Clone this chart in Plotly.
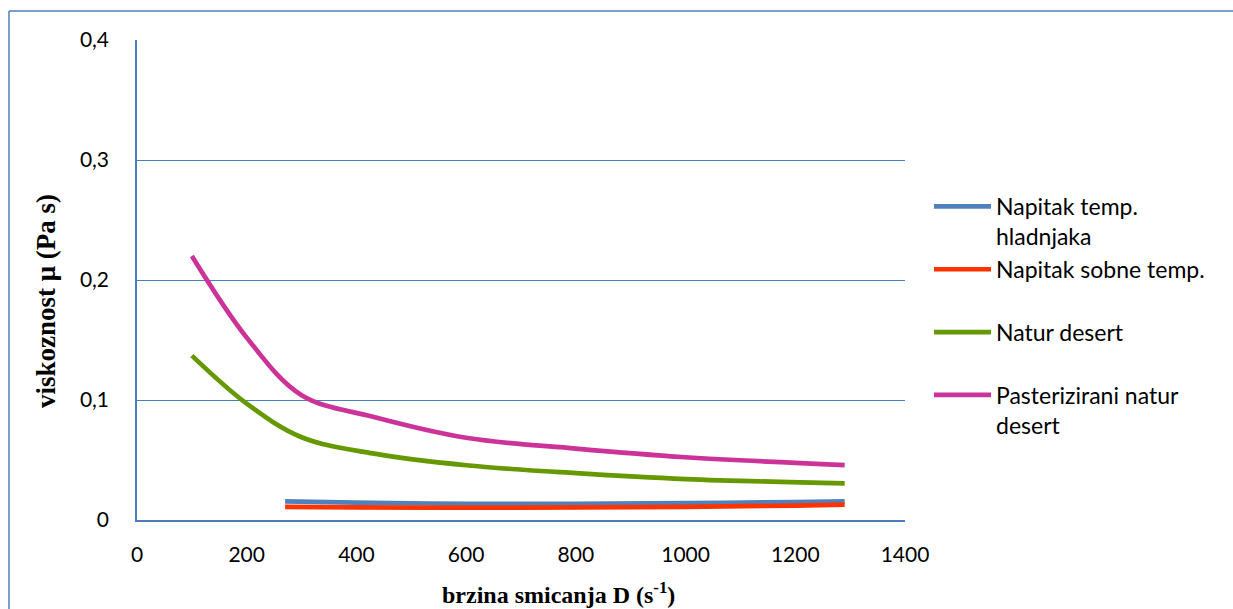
import plotly.graph_objects as go

# ---- data ----
series_names = [
    "Napitak temp.<br>hladnjaka",
    "Napitak sobne temp.<br> ",
    "Natur desert<br> ",
    "Pasterizirani natur<br>desert",
]
x_napitak = [270, 400, 600, 800, 1000, 1200, 1290]
y_hladnjak = [0.0155, 0.0145, 0.0135, 0.0135, 0.0140, 0.0150, 0.0155]
y_sobna = [0.0110, 0.0105, 0.0103, 0.0105, 0.0110, 0.0120, 0.0128]

x_desert = [100, 200, 300, 430, 600, 800, 1000, 1290]
y_natur = [0.137, 0.097, 0.069, 0.0555, 0.0456, 0.039, 0.0341, 0.0305]
y_pasteriz = [0.220, 0.152, 0.104, 0.086, 0.0685, 0.0595, 0.0523, 0.0458]

colors = ["#4F81BD", "#FF3300", "#669900", "#CC3399"]

x_ticks = [0, 200, 400, 600, 800, 1000, 1200, 1400]
y_ticks = [0, 0.1, 0.2, 0.3, 0.4]

x_title = "brzina smicanja D (s<sup>-1</sup>)"
y_title = "viskoznost μ (Pa s)"

# ---- figure ----
W, H = 1233, 609
L, R, T, B = 137, 905, 40, 520

fig = go.Figure()
xs = [x_napitak, x_napitak, x_desert, x_desert]
ys = [y_hladnjak, y_sobna, y_natur, y_pasteriz]
for i, (name, xv, yv, c) in enumerate(zip(series_names, xs, ys, colors)):
    fig.add_trace(go.Scatter(
        x=xv, y=yv, name=name, mode="lines", legendgroup=f"g{i}",
        line=dict(color=c, width=4.7, shape="spline"),
    ))

grid_col = "#4A7EBB"
tick_font = dict(family="Lato", size=21, color="#000000")

fig.update_xaxes(
    range=[0, 1400], tickvals=x_ticks, showgrid=False,
    showline=True, linecolor=grid_col, linewidth=1.5,
    zeroline=False, ticks="", tickfont=tick_font,
    ticklabelstandoff=15,
)
fig.update_yaxes(
    range=[0, 0.4], tickvals=y_ticks, showgrid=True,
    gridcolor=grid_col, gridwidth=1.3,
    showline=True, linecolor=grid_col, linewidth=1.5,
    zeroline=False, ticks="", tickfont=tick_font,
    ticklabelstandoff=22,
)

px = lambda v: (v - L) / (R - L)
py = lambda v: (B - v) / (B - T)

fig.add_annotation(
    text="<b>" + x_title + "</b>", xref="paper", yref="paper",
    x=px(558), y=py(593), showarrow=False,
    font=dict(family="Liberation Serif", size=24, color="#000000"),
    xanchor="center", yanchor="middle",
)
fig.add_annotation(
    text="<b>" + y_title + "</b>", xref="paper", yref="paper",
    x=px(46), y=py(301), showarrow=False, textangle=-90,
    font=dict(family="Liberation Serif", size=27, color="#000000"),
    xanchor="center", yanchor="middle",
)

# outer chart frame (left and top edges visible)
fig.add_shape(type="line", xref="paper", yref="paper",
              x0=px(9), x1=px(1240), y0=py(11), y1=py(11),
              line=dict(color="#4F81BD", width=1.5))
fig.add_shape(type="line", xref="paper", yref="paper",
              x0=px(9), x1=px(9), y0=py(11), y1=py(620),
              line=dict(color="#4F81BD", width=1.5))

fig.update_layout(
    width=W, height=H,
    margin=dict(l=L, r=W - R, t=T, b=H - B),
    paper_bgcolor="white", plot_bgcolor="white",
    separators=", ",
    showlegend=True,
    legend=dict(
        x=px(929), y=py(185), xanchor="left", yanchor="top",
        font=dict(family="Lato", size=23, color="#000000"),
        valign="top", itemwidth=57, tracegroupgap=0,
        traceorder="grouped",
        bgcolor="rgba(0,0,0,0)",
    ),
)

fig.write_html("out.html", config={"displayModeBar": False},
               post_script="document.body.style.margin='0';document.body.style.overflow='hidden';")
